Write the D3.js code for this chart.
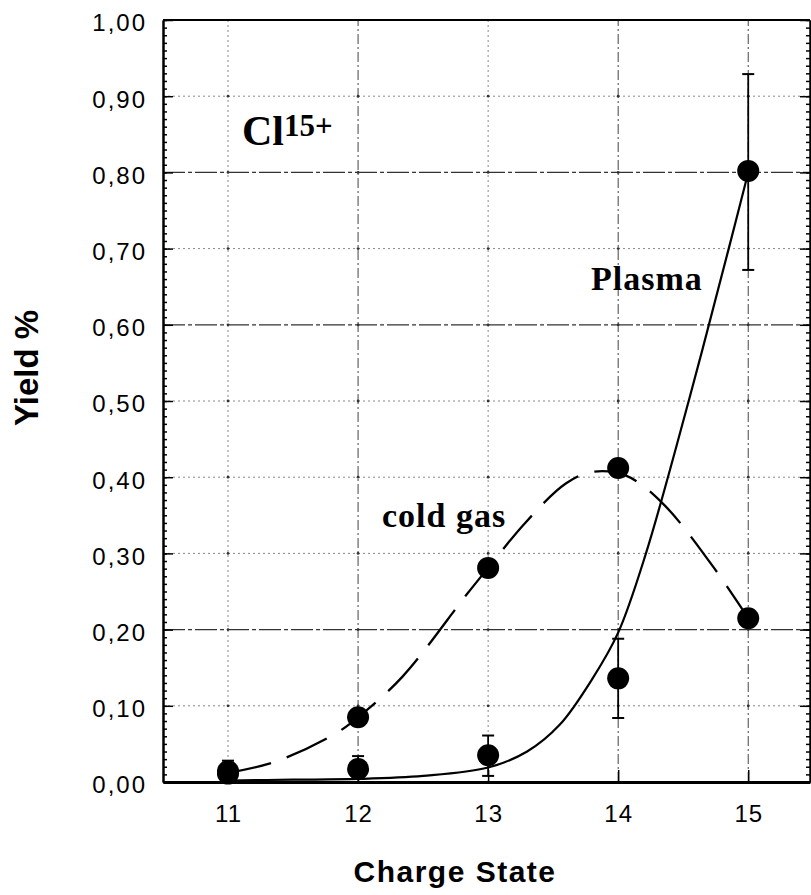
<!DOCTYPE html>
<html>
<head>
<meta charset="utf-8">
<script src="https://cdn.jsdelivr.net/npm/d3@7"></script>
<style>
body { margin: 0; background: #fff; }
</style>
</head>
<body>
<div class="chart"></div>
<script>
var width = 811;
var height = 895;

// measured yields (%)
var charges = [11, 12, 13, 14, 15];
var coldGas = [0.014, 0.085, 0.281, 0.412, 0.215];
var plasma = [0.011, 0.017, 0.035, 0.136, 0.802];
var plasmaLow = [0.000, 0.002, 0.008, 0.084, 0.672];
var plasmaHigh = [0.028, 0.034, 0.061, 0.188, 0.929];

// fitted curves
var coldFitX = [11, 11.37, 11.83, 12, 12.34, 12.83, 13, 13.29, 13.6, 13.8, 14.06, 14.34, 14.72, 15];
var coldFitY = [0.012, 0.027, 0.064, 0.085, 0.138, 0.245, 0.281, 0.341, 0.392, 0.407, 0.402, 0.366, 0.285, 0.215];
var plasmaFitX = [11, 11.5, 12, 12.5, 13, 13.3, 13.55, 13.8, 14, 14.21, 14.55, 14.85, 15];
var plasmaFitY = [0.002, 0.003, 0.004, 0.008, 0.019, 0.04, 0.075, 0.135, 0.196, 0.298, 0.505, 0.7, 0.8];

var yTicks = [0, 0.1, 0.2, 0.3, 0.4, 0.5, 0.6, 0.7, 0.8, 0.9, 1.0];
var yGridDark = [0.2, 0.6, 0.8];
var xGridDark = [12, 14, 15];

var svg = d3.select(".chart").append("svg")
	.attr("width", width)
	.attr("height", height);

var x = d3.scaleLinear().domain([10.5, 15.475]).range([163, 810]);
var y = d3.scaleLinear().domain([0, 1]).range([782, 20]);

var fmt = d3.formatLocale({decimal: ",", thousands: ".", grouping: [3], currency: ["", ""]}).format(".2f");

// grid
var grid = svg.append("g").attr("class", "grid");
grid.selectAll("line.h")
	.data(yTicks.filter(function(d) { return d > 0 && d < 1; }))
	.join("line")
	.attr("class", "h")
	.attr("x1", x(10.5)).attr("x2", x(15.475))
	.attr("y1", function(d) { return y(d); })
	.attr("y2", function(d) { return y(d); })
	.attr("stroke", function(d) { return yGridDark.indexOf(d) >= 0 ? "#333" : "#888"; })
	.attr("stroke-width", function(d) { return yGridDark.indexOf(d) >= 0 ? 1.2 : 1; })
	.attr("stroke-dasharray", function(d) { return yGridDark.indexOf(d) >= 0 ? "22,3,4,3" : "2,3"; });

grid.selectAll("line.v")
	.data(charges)
	.join("line")
	.attr("class", "v")
	.attr("x1", function(d) { return x(d); })
	.attr("x2", function(d) { return x(d); })
	.attr("y1", y(0)).attr("y2", y(1))
	.attr("stroke", function(d) { return xGridDark.indexOf(d) >= 0 ? "#444" : "#888"; })
	.attr("stroke-width", 1)
	.attr("stroke-dasharray", function(d) { return xGridDark.indexOf(d) >= 0 ? "10,3,2,3" : "2,3"; });

// little dots where the grid lines cross
var crossings = [];
charges.forEach(function(c) {
	yTicks.slice(1, 10).forEach(function(v) { crossings.push([c, v]); });
});
grid.selectAll("circle")
	.data(crossings)
	.join("circle")
	.attr("cx", function(d) { return x(d[0]); })
	.attr("cy", function(d) { return y(d[1]); })
	.attr("r", 1.4)
	.attr("fill", "#333");

// fitted curves
var line = d3.line()
	.x(function(d) { return x(d[0]); })
	.y(function(d) { return y(d[1]); })
	.curve(d3.curveCatmullRom.alpha(0.5));

svg.append("path")
	.datum(d3.zip(coldFitX, coldFitY))
	.attr("d", line)
	.attr("fill", "none")
	.attr("stroke", "#000")
	.attr("stroke-width", 2.3)
	.attr("stroke-dasharray", "44,17");

svg.append("path")
	.datum(d3.zip(plasmaFitX, plasmaFitY))
	.attr("d", line)
	.attr("fill", "none")
	.attr("stroke", "#000")
	.attr("stroke-width", 2.2);

// error bars on plasma points
var errs = svg.append("g").attr("class", "errors");
var errData = d3.zip(charges, plasmaLow, plasmaHigh);
errs.selectAll("line.bar")
	.data(errData)
	.join("line")
	.attr("class", "bar")
	.attr("x1", function(d) { return x(d[0]); })
	.attr("x2", function(d) { return x(d[0]); })
	.attr("y1", function(d) { return y(d[1]); })
	.attr("y2", function(d) { return y(d[2]); })
	.attr("stroke", "#000")
	.attr("stroke-width", 1.8);
errs.selectAll("line.top")
	.data(errData)
	.join("line")
	.attr("class", "top")
	.attr("x1", function(d) { return x(d[0]) - 6; })
	.attr("x2", function(d) { return x(d[0]) + 6; })
	.attr("y1", function(d) { return y(d[2]); })
	.attr("y2", function(d) { return y(d[2]); })
	.attr("stroke", "#000")
	.attr("stroke-width", 2);
errs.selectAll("line.bot")
	.data(errData.filter(function(d) { return d[1] > 0.005; }))
	.join("line")
	.attr("class", "bot")
	.attr("x1", function(d) { return x(d[0]) - 6; })
	.attr("x2", function(d) { return x(d[0]) + 6; })
	.attr("y1", function(d) { return y(d[1]); })
	.attr("y2", function(d) { return y(d[1]); })
	.attr("stroke", "#000")
	.attr("stroke-width", 2);

// markers
svg.append("g").selectAll("circle")
	.data(d3.zip(charges, coldGas).concat(d3.zip(charges, plasma)))
	.join("circle")
	.attr("cx", function(d) { return x(d[0]); })
	.attr("cy", function(d) { return y(d[1]); })
	.attr("r", 11)
	.attr("fill", "#000");

// axes
function styleTicks(g) {
	g.select(".domain").attr("stroke-width", 2);
	g.selectAll(".tick line").attr("stroke-width", 1.5);
	g.selectAll("text")
		.attr("font-family", "'Liberation Sans', Arial, sans-serif")
		.attr("font-size", 24)
		.attr("fill", "#000");
}

var minor = d3.range(0, 101).map(function(i) { return i / 100; });

svg.append("g")
	.attr("transform", "translate(" + x(10.5) + ",0)")
	.call(d3.axisLeft(y).tickValues(minor).tickSize(-4).tickSizeOuter(0).tickFormat(""))
	.call(styleTicks);
svg.append("g")
	.attr("transform", "translate(" + x(10.5) + ",0)")
	.call(d3.axisLeft(y).tickValues(yTicks).tickSize(-10).tickSizeOuter(0).tickPadding(16).tickFormat(fmt))
	.call(styleTicks)
	.call(function(g) {
		g.selectAll("text").attr("dy", "0.45em").attr("letter-spacing", 2);
	});

svg.append("g")
	.attr("transform", "translate(" + x(15.475) + ",0)")
	.call(d3.axisRight(y).tickValues(minor).tickSize(-4).tickSizeOuter(0).tickFormat(""))
	.call(styleTicks);
svg.append("g")
	.attr("transform", "translate(" + x(15.475) + ",0)")
	.call(d3.axisRight(y).tickValues(yTicks).tickSize(-10).tickSizeOuter(0).tickFormat(""))
	.call(styleTicks);

svg.append("g")
	.attr("transform", "translate(0," + y(0) + ")")
	.call(d3.axisBottom(x).tickValues(charges).tickSize(-12).tickSizeOuter(0).tickPadding(23).tickFormat(d3.format("d")))
	.call(styleTicks)
	.call(function(g) {
		g.select(".domain").attr("stroke-width", 3);
		g.selectAll("text").attr("letter-spacing", 1);
	});

// top frame
svg.append("line")
	.attr("x1", x(10.5)).attr("x2", x(15.475))
	.attr("y1", y(1)).attr("y2", y(1))
	.attr("stroke", "#000")
	.attr("stroke-width", 2);

// labels
var serif = "'Liberation Serif', 'Times New Roman', serif";
var sans = "'Liberation Sans', Arial, sans-serif";

var ion = svg.append("text")
	.attr("x", 242)
	.attr("y", 145)
	.attr("font-family", serif)
	.attr("font-weight", "bold")
	.attr("font-size", 42);
ion.append("tspan").text("Cl");
ion.append("tspan").attr("dy", -9).attr("font-size", 31).text("15+");

svg.append("text")
	.attr("x", 591)
	.attr("y", 290)
	.attr("font-family", serif)
	.attr("font-weight", "bold")
	.attr("font-size", 34)
	.attr("letter-spacing", 1)
	.text("Plasma");

svg.append("text")
	.attr("x", 382)
	.attr("y", 527)
	.attr("font-family", serif)
	.attr("font-weight", "bold")
	.attr("font-size", 34)
	.attr("letter-spacing", 1)
	.text("cold gas");

svg.append("text")
	.attr("transform", "translate(38,368) rotate(-90)")
	.attr("text-anchor", "middle")
	.attr("font-family", sans)
	.attr("font-weight", "bold")
	.attr("font-size", 33)
	.text("Yield %");

svg.append("text")
	.attr("x", 455)
	.attr("y", 882)
	.attr("text-anchor", "middle")
	.attr("font-family", sans)
	.attr("font-weight", "bold")
	.attr("font-size", 30)
	.attr("letter-spacing", 1.5)
	.text("Charge State");
</script>
</body>
</html>
